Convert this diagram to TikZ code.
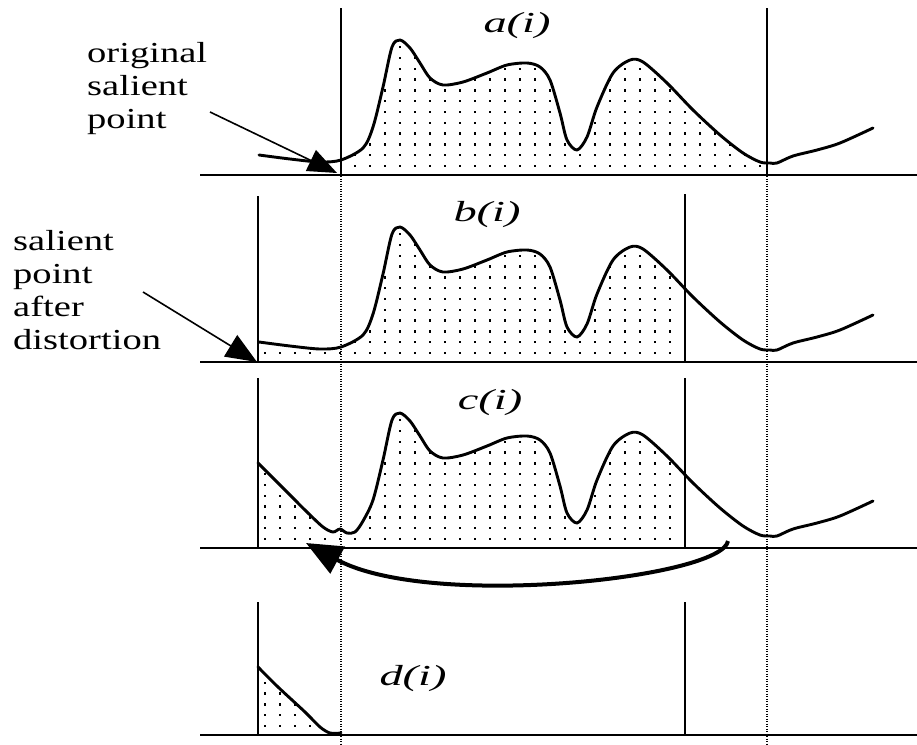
\documentclass[tikz,border=0pt]{standalone}
\usepackage{fontspec}
\setmainfont{Liberation Serif}
\usetikzlibrary{arrows.meta}
\def\sigA{plot[smooth] coordinates {(259,155) (290,159) (320,162) (341,160) (363,148) (373,127) (383,87) (392,47) (400,40) (410,48) (420,63) (430,78) (443,85) (463,82) (487,73) (507,65) (527,63) (540,67) (550,80) (560,113) (567,140) (577,150) (587,137) (597,107) (613,73) (630,60) (643,62) (667,83) (693,110) (720,135) (743,153) (760,162) (770,163) (777,163) (793,156) (817,150) (840,143) (873,128)}}
\def\sigC{plot[smooth] coordinates {(258,463) (273,478) (290,495) (307,512) (323,527) (333,532) (340,529) (347,533) (355,532) (363,521) (373,500) (383,460) (392,420) (400,413) (410,421) (420,436) (430,451) (443,458) (463,455) (487,446) (507,438) (527,436) (540,440) (550,453) (560,486) (567,513) (577,523) (587,510) (597,480) (613,446) (630,433) (643,435) (667,456) (693,483) (720,508) (743,526) (760,535) (770,536) (777,536) (793,529) (817,523) (840,516) (873,501)}}
\def\sigD{plot[smooth] coordinates {(258,667) (278,687) (305,712) (320,727) (330,733) (341,733)}}
\newcommand\dotsfor[1]{\foreach \r in {0,...,13}{\foreach \x in {265,280,...,760}{\fill (\x-1.3,#1-9-\r*10.8-1.2) rectangle ++(2.6,2.4);}}}
\begin{document}
\begin{tikzpicture}[x=1pt,y=-1pt,
  base/.style={line width=2pt},
  bar/.style={line width=2pt},
  guide/.style={line width=1.2pt, dash pattern=on 1.2pt off 1.3pt},
  sig/.style={line width=2.9pt, line join=round, line cap=round},
  pointer/.style={line width=1.6pt, -{Triangle[length=29pt,width=23pt]}},
  pointerb/.style={line width=1.6pt, -{Triangle[length=31pt,width=25pt]}},
  bendarrow/.style={line width=4pt, -{Triangle[length=36pt,width=30pt]}},
  lbl/.style={inner sep=0pt, anchor=base, font=\fontsize{29}{33}\selectfont\itshape},
  note/.style={inner sep=0pt, anchor=base west, font=\fontsize{29}{33.3}\selectfont}]
\useasboundingbox (0,0) rectangle (917,744);
\fill[white] (0,0) rectangle (917,744);

% dotted fills
\begin{scope}
  \clip (341,0) rectangle (767,175);
  \clip \sigA -- (873,175) -- (259,175) -- cycle;
  \dotsfor{175}
\end{scope}
\begin{scope}[yshift=-187pt]
  \clip (258,0) rectangle (685,175);
  \clip \sigA -- (873,175) -- (258,175) -- (258,155) -- cycle;
  \dotsfor{175}
\end{scope}
\begin{scope}
  \clip (258,370) rectangle (685,548);
  \clip \sigC -- (873,548) -- (258,548) -- cycle;
  \dotsfor{548}
\end{scope}
\begin{scope}
  \clip \sigD -- (341,735) -- (258,735) -- cycle;
  \dotsfor{735}
\end{scope}

% dotted guide lines
\coordinate (g1t) at (341,176); \coordinate (g1b) at (341,744);
\coordinate (g2t) at (767,176); \coordinate (g2b) at (767,744);
\draw[guide] (g1t) -- (g1b);
\draw[guide] (g2t) -- (g2b);

% baselines
\coordinate (a0) at (200,175); \coordinate (a1) at (917,175);
\coordinate (b0) at (200,362); \coordinate (b1) at (917,362);
\coordinate (c0) at (200,548); \coordinate (c1) at (917,548);
\coordinate (d0) at (200,735); \coordinate (d1) at (917,735);
\draw[base] (a0) -- (a1);
\draw[base] (b0) -- (b1);
\draw[base] (c0) -- (c1);
\draw[base] (d0) -- (d1);

% vertical bars
\coordinate (va1t) at (341,8);   \coordinate (va1b) at (341,175);
\coordinate (va2t) at (767,8);   \coordinate (va2b) at (767,175);
\coordinate (vb1t) at (258,196); \coordinate (vb1b) at (258,363);
\coordinate (vb2t) at (685,194); \coordinate (vb2b) at (685,362);
\coordinate (vc1t) at (258,378); \coordinate (vc1b) at (258,548);
\coordinate (vc2t) at (685,378); \coordinate (vc2b) at (685,548);
\coordinate (vd1t) at (258,602); \coordinate (vd1b) at (258,735);
\coordinate (vd2t) at (685,602); \coordinate (vd2b) at (685,735);
\foreach \v in {va1,va2,vb1,vb2,vc1,vc2,vd1,vd2}{\draw[bar] (\v t) -- (\v b);}

% signals
\draw[sig] \sigA;
\begin{scope}[yshift=-187pt]
  \draw[sig] \sigA;
\end{scope}
\draw[sig] \sigC;
\draw[sig] \sigD;

% labels
\node[lbl] (la) at (517,32) {\scalebox{1.6}[1]{a(i)}};
\node[lbl] (lb) at (487,221) {\scalebox{1.6}[1]{b(i)}};
\node[lbl] (lc) at (490,409) {\scalebox{1.6}[1]{c(i)}};
\node[lbl] (ld) at (413,685) {\scalebox{1.6}[1]{d(i)}};

% annotations
\node[note] (t1) at (87,62) {\scalebox{1.33}[1]{\begin{tabular}[t]{@{}l@{}}original\\salient\\point\end{tabular}}};
\node[note] (t2) at (13,250) {\scalebox{1.33}[1]{\begin{tabular}[t]{@{}l@{}}salient\\point\\after\\distortion\end{tabular}}};
\coordinate (p1s) at (210,112); \coordinate (p1e) at (337,173);
\coordinate (p2s) at (143,292); \coordinate (p2e) at (257,362);
\draw[pointer] (p1s) -- (p1e);
\draw[pointerb] (p2s) -- (p2e);

% curved arrow
\coordinate (cs) at (728,541); \coordinate (ce) at (306,543);
\draw[bendarrow] (cs) .. controls (722,578) and (430,610) .. (ce);
\end{tikzpicture}
\end{document}
